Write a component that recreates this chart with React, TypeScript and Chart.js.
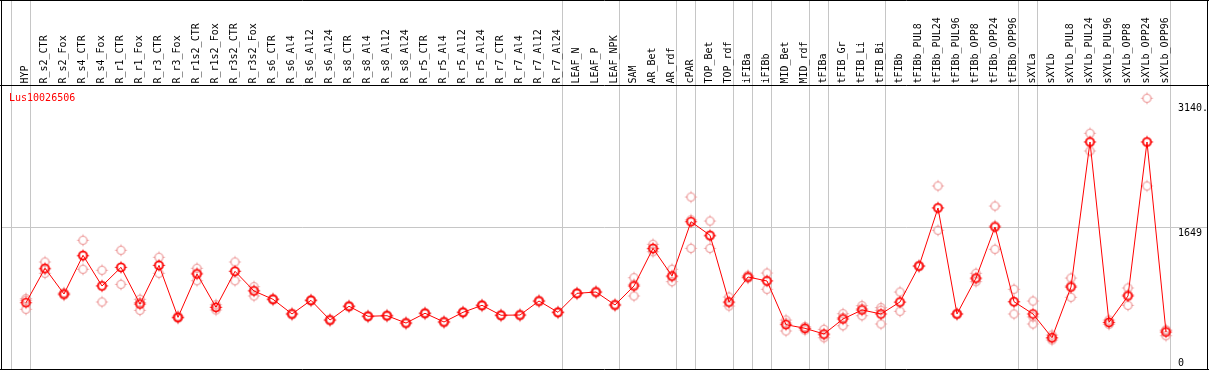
import React, { useEffect, useRef } from "react";
import { Chart, registerables } from "chart.js";

Chart.register(...registerables);

const SERIES_NAME = "Lus10026506";

const CATEGORIES = [
  "HYP",
  "R_s2_CTR", "R_s2_Fox", "R_s4_CTR", "R_s4_Fox", "R_r1_CTR", "R_r1_Fox", "R_r3_CTR", "R_r3_Fox",
  "R_r1s2_CTR", "R_r1s2_Fox", "R_r3s2_CTR", "R_r3s2_Fox",
  "R_s6_CTR", "R_s6_Al4", "R_s6_Al12", "R_s6_Al24",
  "R_s8_CTR", "R_s8_Al4", "R_s8_Al12", "R_s8_Al24",
  "R_r5_CTR", "R_r5_Al4", "R_r5_Al12", "R_r5_Al24",
  "R_r7_CTR", "R_r7_Al4", "R_r7_Al12", "R_r7_Al24",
  "LEAF_N", "LEAF_P", "LEAF_NPK",
  "SAM", "AR_Bet", "AR_rdf",
  "cPAR",
  "TOP_Bet", "TOP_rdf",
  "iFIBa",
  "iFIBb",
  "MID_Bet", "MID_rdf",
  "tFIBa",
  "tFIB_Gr", "tFIB_Li", "tFIB_Bi",
  "tFIBb", "tFIBb_PUL8", "tFIBb_PUL24", "tFIBb_PUL96", "tFIBb_OPP8", "tFIBb_OPP24", "tFIBb_OPP96",
  "sXYLa",
  "sXYLb", "sXYLb_PUL8", "sXYLb_PUL24", "sXYLb_PUL96", "sXYLb_OPP8", "sXYLb_OPP24", "sXYLb_OPP96",
];

const MEANS = [
  773,
  1172, 874, 1322, 967, 1183, 758, 1206, 604,
  1106, 720, 1137, 909,
  813, 643, 801, 573,
  732, 616, 623, 538,
  651, 550, 662, 743,
  628, 631, 793, 662,
  882, 897, 747,
  967, 1403, 1083,
  1711,
  1554, 782,
  1071,
  1025,
  519, 477,
  411,
  585, 689, 643,
  782, 1198, 1870, 643, 1059, 1650, 785,
  643,
  368, 955, 2634, 546, 851, 2634, 434,
];

const REP_A = [
  820,
  1245, 874, 1496, 1149, 1380, 813, 1299, 604,
  1172, 750, 1245, 959,
  813, 643, 801, 573,
  732, 616, 623, 538,
  651, 550, 662, 743,
  628, 631, 793, 662,
  882, 897, 747,
  1063, 1450, 1160,
  1997,
  1719, 839,
  1090,
  1117,
  573, 457,
  465,
  646, 739, 716,
  897, 1198, 2125, 643, 1114, 1893, 929,
  793,
  399, 1059, 2735, 573, 944, 3140, 457,
];

const REP_B = [
  697,
  1114, 860, 1160, 782, 986, 685, 1114, 590,
  1028, 689, 1028, 851,
  803, 633, 791, 563,
  722, 606, 613, 528,
  641, 540, 652, 733,
  618, 621, 783, 652,
  872, 887, 737,
  851, 1364, 1017,
  1403,
  1403, 735,
  1060,
  929,
  446, 496,
  368,
  507, 623, 527,
  674, 1190, 1612, 635, 1017, 1392, 643,
  527,
  342, 836, 2530, 523, 743, 2125, 391,
];

const REP_C = [
  802,
  1157, 888, 1310, 970, 1183, 776, 1205, 618,
  1118, 721, 1138, 917,
  823, 653, 811, 583,
  742, 626, 633, 548,
  661, 560, 672, 753,
  638, 641, 803, 672,
  892, 907, 757,
  987, 1395, 1072,
  1733,
  1540, 772,
  1063,
  1029,
  538, 477,
  400,
  602, 705, 686,
  775, 1206, 1873, 651, 1046, 1665, 783,
  609,
  363, 970, 2637, 542, 866, 2637, 454,
];

// index of the last category in each group (-1 = before the first one)
const GROUP_ENDS = [-1, 0, 28, 31, 34, 35, 37, 38, 39, 41, 42, 45, 52, 53, 60];
const GRID_VALUE = 1649;
const Y_TICK_VALUES = [3140, 1649, 0];
const Y_TICK_LABELS = ["3140.", "1649", "0"];
const Y_MAX = 3294;

const FONT = '10px "DejaVu Sans Mono", "Liberation Mono", monospace';

function makeMarker(color: string, lw: number, r: number) {
  const c = document.createElement("canvas");
  c.width = 15;
  c.height = 15;
  const g = c.getContext("2d")!;
  const cx = 7.5;
  const cy = 7.5;
  g.strokeStyle = color;
  g.lineWidth = lw;
  g.beginPath();
  g.arc(cx, cy, r, 0, Math.PI * 2);
  g.stroke();
  g.lineWidth = 1;
  g.beginPath();
  g.moveTo(cx, cy - r - 1.8);
  g.lineTo(cx, cy - r);
  g.moveTo(cx, cy + r);
  g.lineTo(cx, cy + r + 1.8);
  g.moveTo(cx - r - 1.8, cy);
  g.lineTo(cx - r, cy);
  g.moveTo(cx + r, cy);
  g.lineTo(cx + r + 1.8, cy);
  g.stroke();
  return c;
}

const framePlugin = {
  id: "framePlugin",
  beforeDatasetsDraw(chart: any) {
    const { ctx, width, height } = chart;
    const x = chart.scales.x;
    const y = chart.scales.y;
    ctx.save();
    ctx.lineWidth = 1;
    // gray separators
    ctx.strokeStyle = "#c6c6c6";
    ctx.beginPath();
    for (const gi of GROUP_ENDS) {
      const px = Math.floor(x.getPixelForValue(gi) + 4.5) + 0.5;
      ctx.moveTo(px, 0);
      ctx.lineTo(px, height);
    }
    const gy = Math.floor(y.getPixelForValue(GRID_VALUE)) + 0.5;
    ctx.moveTo(1, gy);
    ctx.lineTo(width - 1, gy);
    ctx.stroke();

    // black frame + header rule
    ctx.strokeStyle = "#000";
    ctx.beginPath();
    ctx.moveTo(0, 0.5);
    ctx.lineTo(width, 0.5);
    ctx.moveTo(1.5, 0);
    ctx.lineTo(1.5, height);
    ctx.moveTo(width - 1.5, 0);
    ctx.lineTo(width - 1.5, height);
    ctx.moveTo(0, height - 0.5);
    ctx.lineTo(width, height - 0.5);
    ctx.moveTo(0, 85.5);
    ctx.lineTo(width, 85.5);
    ctx.stroke();

    // header labels (rotated)
    ctx.font = FONT;
    ctx.fillStyle = "#000";
    ctx.textAlign = "left";
    ctx.textBaseline = "alphabetic";
    CATEGORIES.forEach((lab, i) => {
      const px = x.getPixelForValue(i);
      ctx.save();
      ctx.translate(px + 2.3, 83.5);
      ctx.rotate(-Math.PI / 2);
      ctx.fillText(lab, 0, 0);
      ctx.restore();
    });

    // series name
    ctx.fillStyle = "#ff0000";
    ctx.fillText(SERIES_NAME, 9, 101);

    // right-hand value labels
    ctx.fillStyle = "#000";
    const offs = [12.7, 9, -4];
    Y_TICK_VALUES.forEach((v, k) => {
      const py = y.getPixelForValue(v) + offs[k];
      ctx.fillText(Y_TICK_LABELS[k], 1178, py);
    });
    ctx.restore();
  },
};

export default function App() {
  const ref = useRef<HTMLCanvasElement | null>(null);

  useEffect(() => {
    document.body.style.margin = "0";
    const canvas = ref.current!;
    const meanMarker = makeMarker("#ff0000", 1.7, 4);
    const repMarker = makeMarker("rgb(236,150,150)", 1.2, 4);

    const repDataset = (data: number[]) => ({
      data,
      showLine: false,
      pointStyle: repMarker as any,
      pointRadius: 5,
      pointHoverRadius: 5,
      borderColor: "rgb(236,150,150)",
      backgroundColor: "transparent",
    });

    const chart = new Chart(canvas, {
      type: "line",
      data: {
        labels: CATEGORIES,
        datasets: [
          {
            data: MEANS,
            borderColor: "#ff0000",
            borderWidth: 1,
            backgroundColor: "transparent",
            pointStyle: meanMarker as any,
            pointRadius: 5,
            pointHoverRadius: 5,
            tension: 0,
          },
          repDataset(REP_A),
          repDataset(REP_B),
          repDataset(REP_C),
        ],
      },
      options: {
        animation: false,
        responsive: false,
        devicePixelRatio: 1,
        events: [],
        layout: { autoPadding: false, padding: { left: 16.5, right: 33.5, top: 85, bottom: 0.5 } },
        plugins: {
          legend: { display: false },
          tooltip: { enabled: false },
          title: { display: false },
        },
        scales: {
          x: { type: "category", offset: true, display: false },
          y: { type: "linear", min: 0, max: Y_MAX, display: false },
        },
      },
      plugins: [framePlugin],
    });
    return () => chart.destroy();
  }, []);

  return (
    <div style={{ width: 1209, height: 370, background: "#fff" }}>
      <canvas ref={ref} width={1209} height={370} style={{ display: "block", width: 1209, height: 370 }} />
    </div>
  );
}
